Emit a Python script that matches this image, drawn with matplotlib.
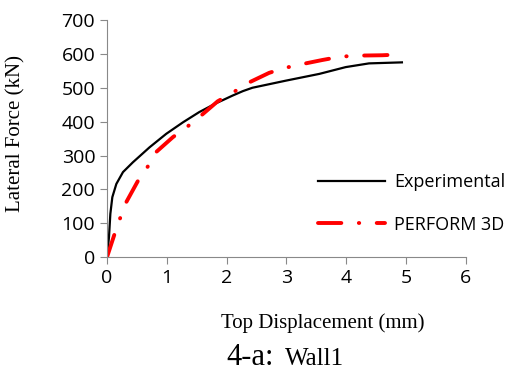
import matplotlib.pyplot as plt

# pushover curves, displacement in mm, force in kN
exp_disp = [0, 0.033, 0.056, 0.089, 0.156, 0.267, 0.433, 0.71, 0.99, 1.27, 1.54, 1.82, 2.1,
            2.27, 2.43, 2.99, 3.55, 3.99, 4.38, 4.93]
exp_force = [0, 59, 128, 177, 216, 251, 280, 324, 364, 398, 428, 454, 477,
             490, 500, 521, 541, 561, 572, 575]

p3d_disp = [0, 0.128, 0.21, 0.29, 0.52, 0.66, 0.82, 1.1, 1.32, 1.54, 1.85, 2.1,
            2.32, 2.71, 2.96, 3.21, 3.6, 3.91, 4.21, 4.6, 4.86]
p3d_force = [0, 69, 110, 152, 226, 261, 310, 354, 382, 413, 460, 485,
             511, 544, 558, 568, 582, 592, 595, 596, 598]

xticks = [0, 1, 2, 3, 4, 5, 6]
yticks = [0, 100, 200, 300, 400, 500, 600, 700]

def main():
    fig = plt.figure(figsize=(5.12, 3.71), dpi=100)
    ax = fig.add_axes([0.209, 0.307, 0.701, 0.639])

    ax.plot(exp_disp, exp_force, color='black', lw=1.6, label='Experimental')
    ax.plot(p3d_disp, p3d_force, color='red', lw=2.8, dashes=(6, 4.5, 0.1, 4.5),
            dash_capstyle='round', label='PERFORM 3D')

    ax.set_xlim(0, 6)
    ax.set_ylim(0, 700)
    ax.set_xticks(xticks)
    ax.set_yticks(yticks)
    for s in ['top', 'right']:
        ax.spines[s].set_visible(False)
    for s in ['left', 'bottom']:
        ax.spines[s].set_color('#898989')
    ax.tick_params(colors='#898989', labelcolor='black', labelsize=14, length=5)
    for lab in ax.get_xticklabels() + ax.get_yticklabels():
        lab.set_family('Open Sans')

    ax.set_ylabel('Lateral Force (kN)', family='Liberation Serif', fontsize=15)
    ax.yaxis.set_label_coords(-0.226, 0.52)
    ax.set_xlabel('Top Displacement (mm)', family='Liberation Serif', fontsize=15)
    ax.xaxis.set_label_coords(0.6, -0.235)

    ax.legend(loc='lower right', bbox_to_anchor=(1.155, 0.03), frameon=False,
              prop={'family': 'Open Sans', 'size': 13}, handlelength=3.7,
              labelspacing=1.35, handletextpad=0.5)

    fig.text(0.443, 0.016, '4-a:', family='Liberation Serif', fontsize=22)
    fig.text(0.557, 0.016, 'Wall1', family='Liberation Serif', fontsize=18)

    fig.savefig('out.png', dpi=100)

if __name__ == "__main__":
    main()
